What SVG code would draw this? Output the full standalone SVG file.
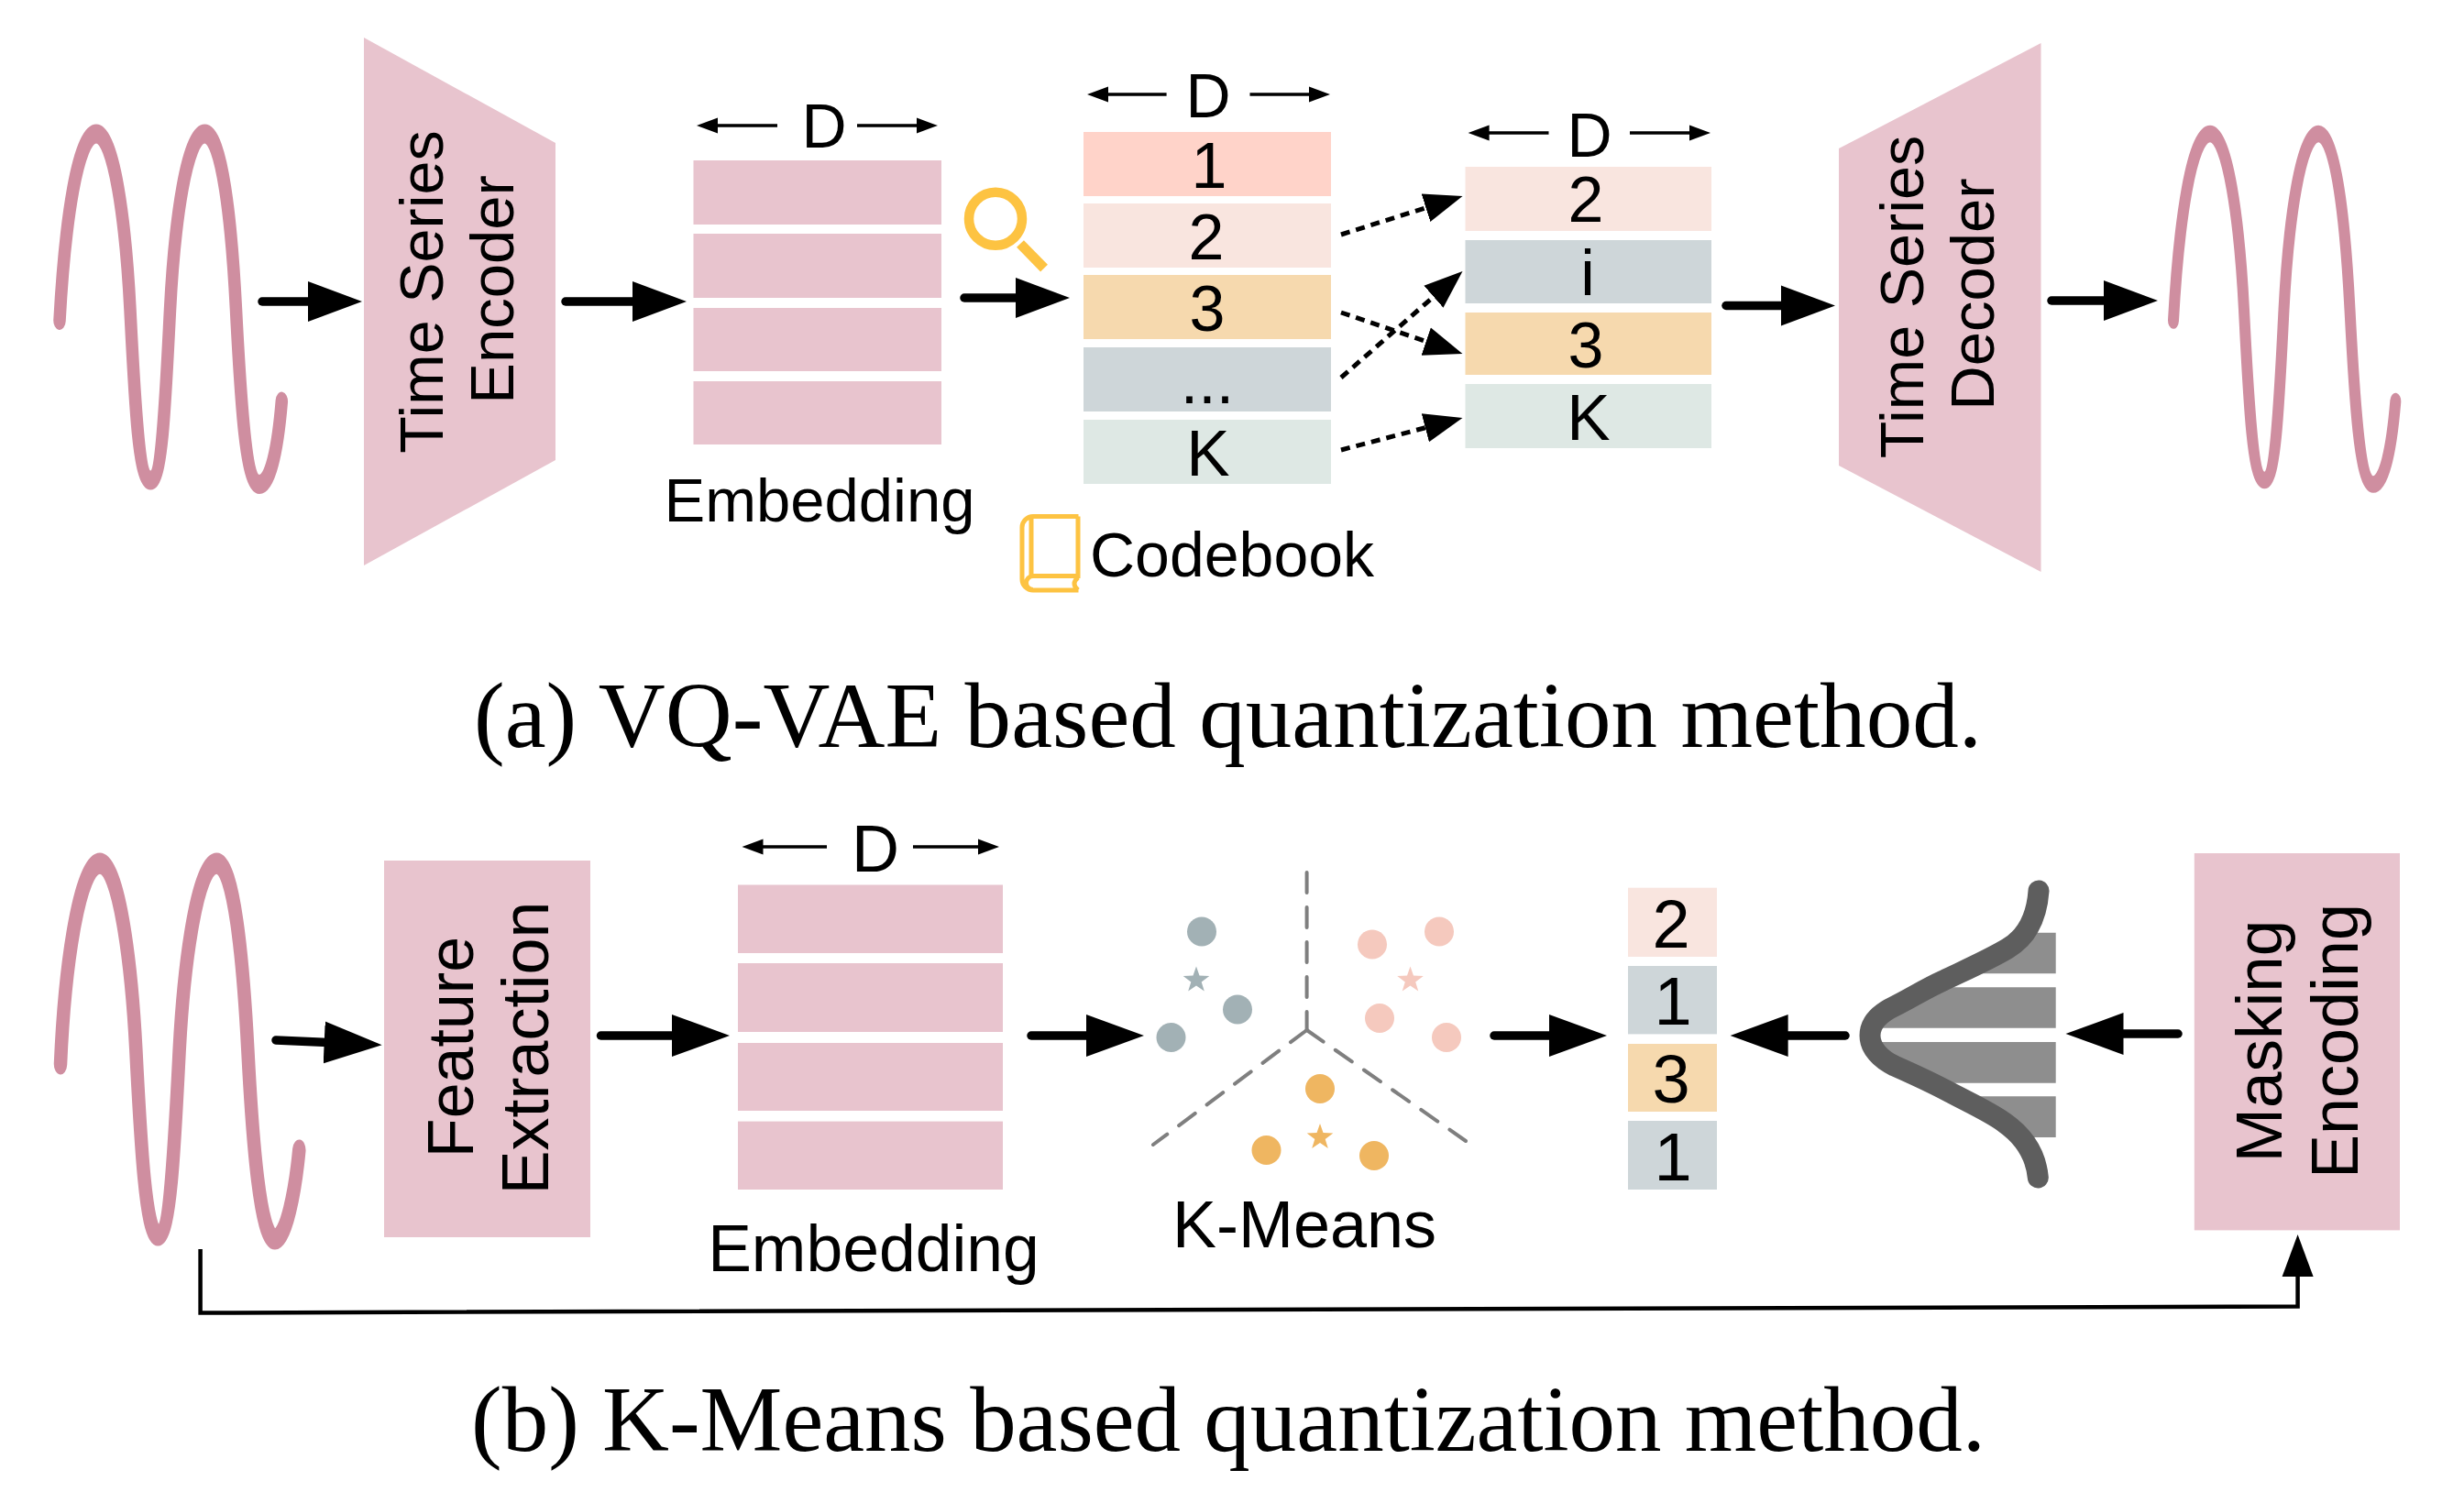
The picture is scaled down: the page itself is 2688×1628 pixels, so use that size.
<svg xmlns="http://www.w3.org/2000/svg" width="2688" height="1628" viewBox="0 0 2688 1628">
<style>
.s{font-family:"Liberation Sans",Arial,sans-serif;fill:#000}
.c{font-family:"Liberation Serif","Times New Roman",serif;font-size:101px;fill:#000}
.m{text-anchor:middle}
.f67{font-size:67px}.f68{font-size:68px}.f70{font-size:70px}.f71{font-size:71px}.f72{font-size:72px}.f74{font-size:74px}
.pk{fill:#E8C4CE}.c1{fill:#FFD3C9}.c2{fill:#F9E5DF}.c3{fill:#F6D9AE}.c4{fill:#CED6D9}.c5{fill:#DEE8E4}
.wave{fill:none;stroke:#CF8EA0;stroke-linecap:round;stroke-linejoin:round}
.big{fill:none;stroke:#000;stroke-width:9.500;stroke-linecap:round}
.a59{marker-end:url(#h59)}.a63{marker-end:url(#h63)}
.thin{fill:none;stroke:#000;stroke-width:3.500;marker-end:url(#h23)}
.dash{fill:none;stroke:#000;stroke-width:5;stroke-dasharray:10 7;marker-end:url(#h42)}
.km{fill:none;stroke:#7F7F7F;stroke-width:4;stroke-linecap:round;stroke-dasharray:22 16}
.bl{fill:#A2B1B5}.pn{fill:#F5C9BE}.or{fill:#EFB661}
.gold{fill:none;stroke:#FDC342}
</style>
<defs>
<marker id="h59" markerUnits="userSpaceOnUse" markerWidth="70" markerHeight="50" refX="10" refY="25" orient="auto"><path d="M0,3 L59,25 L0,47Z"/></marker>
<marker id="h63" markerUnits="userSpaceOnUse" markerWidth="70" markerHeight="50" refX="10" refY="25" orient="auto"><path d="M0,2 L63,25 L0,48Z"/></marker>
<marker id="h23" markerUnits="userSpaceOnUse" markerWidth="26" markerHeight="20" refX="2" refY="10" orient="auto"><path d="M0,1.500 L23,10 L0,18.500Z"/></marker>
<marker id="h42" markerUnits="userSpaceOnUse" markerWidth="44" markerHeight="36" refX="2" refY="18" orient="auto"><path d="M0,2 L42,18 L0,34Z"/></marker>
<marker id="h46" markerUnits="userSpaceOnUse" markerWidth="48" markerHeight="36" refX="2" refY="18" orient="auto"><path d="M0,1 L46,18 L0,35Z"/></marker>
<polygon id="star" points="0,-15 3.500,-4.900 14.300,-4.600 5.700,1.900 8.800,12.100 0,6 -8.800,12.100 -5.700,1.900 -14.300,-4.600 -3.500,-4.900"/>
<path id="wa" d="M65,225.500 C71,154.800 85,94.200 105,94.200 C124,94.200 137,154.800 142,218.100 C147,281.300 151,338.100 164.300,338.100 C177,338.100 180.500,281.300 185.500,218.100 C190.500,154.800 204,94.200 223.300,94.200 C242,94.200 252.500,154.800 257.500,218.100 C262.500,281.300 268,341 283,341 C295,341 303,316.100 307.300,282.600"/>
<clipPath id="bars"><rect x="2000" y="1017.700" width="242.700" height="44.600"/><rect x="2000" y="1077.300" width="242.700" height="44.400"/><rect x="2000" y="1137" width="242.700" height="44.700"/><rect x="2000" y="1196.300" width="242.700" height="44.700"/></clipPath>
</defs>

<g id="wave-input-a"><use href="#wa" class="wave" stroke-width="13.500" transform="scale(1,1.550)"/></g>
<g id="encoder"><polygon class="pk" points="397,41 606,156 606,502 397,617"/>
<text class="s m" style="font-size:66.500px" transform="translate(483,318.500) rotate(-90)">Time Series</text>
<text class="s f67 m" transform="translate(560,316) rotate(-90)">Encoder</text></g>
<g id="embedding-a"><rect class="pk" x="756.500" y="175" width="270.500" height="70"/><rect class="pk" x="756.500" y="255" width="270.500" height="70"/><rect class="pk" x="756.500" y="336" width="270.500" height="69"/><rect class="pk" x="756.500" y="416" width="270.500" height="69"/>
<text class="s f68 m" x="899" y="161">D</text>
<text class="s f67 m" x="894" y="569">Embedding</text></g>
<g id="magnifier"><circle class="gold" stroke-width="10.500" cx="1086" cy="238.700" r="29"/><path class="gold" stroke-width="11" d="M1113,266 L1139,292.700"/></g>
<g id="codebook"><rect class="c1" x="1182" y="144" width="270" height="70"/><rect class="c2" x="1182" y="222" width="270" height="70"/><rect class="c3" x="1182" y="300" width="270" height="70"/><rect class="c4" x="1182" y="379" width="270" height="70"/><rect class="c5" x="1182" y="458" width="270" height="70"/>
<text class="s f68 m" x="1318" y="128">D</text>
<text class="s f70 m" x="1319" y="204.500">1</text><text class="s f70 m" x="1316" y="283">2</text><text class="s f70 m" x="1317" y="361">3</text><text class="s f70 m" x="1317" y="440">...</text><text class="s f71 m" x="1318" y="519">K</text></g>
<g id="codebook-label"><path class="gold" stroke-width="5" d="M1176.500,563.500 H1127 a12,12 0 0 0 -12,12 V632 a12,12 0 0 0 12,12 H1176.500 M1125,564 V628.500 M1176,563.500 V628.500 H1127 a7.500,7.500 0 0 0 0,15 M1176,630 Q1168,637 1176,644"/>
<text class="s f68" x="1189" y="628.500">Codebook</text></g>
<g id="quantized"><rect class="c2" x="1598.500" y="182" width="268.500" height="70"/><rect class="c4" x="1598.500" y="262" width="268.500" height="69"/><rect class="c3" x="1598.500" y="341" width="268.500" height="68"/><rect class="c5" x="1598.500" y="419" width="268.500" height="70"/>
<text class="s f68 m" x="1742" y="171" transform="translate(-8,0)">D</text>
<text class="s f70 m" x="1730" y="242">2</text><text class="s f70 m" x="1732" y="322">i</text><text class="s f70 m" x="1730" y="401">3</text><text class="s f71 m" x="1733" y="479.500">K</text></g>
<g id="decoder"><polygon class="pk" points="2006,162 2226.500,47 2226.500,624 2006,508"/>
<text class="s m" style="font-size:66.500px" transform="translate(2098,324) rotate(-90)">Time Series</text>
<text class="s f67 m" transform="translate(2175,321) rotate(-90)">Decoder</text></g>
<g id="wave-output-a"><use href="#wa" class="wave" stroke-width="12" transform="translate(2306,0) scale(1,1.550)"/></g>
<text class="c" x="517" y="815" textLength="1645">(a) VQ-VAE based quantization method.</text>

<g id="wave-input-b"><path class="wave" stroke-width="14.500" transform="scale(1,1.600)" d="M66,725.600 C71,653.100 88,588.800 109,588.800 C129,588.800 143,653.100 148.300,715.600 C153.500,779.400 159,842.500 172.300,842.500 C186,842.500 190.500,779.400 195.700,715.600 C201,653.100 216,588.800 236.300,588.800 C255,588.800 265,653.100 270.300,715.600 C275.500,779.400 284,845 300,845 C312,845 322,812.500 326.300,784.400"/></g>
<g id="feature-extraction"><rect class="pk" x="419" y="939" width="225" height="411"/>
<text class="s f70 m" transform="translate(516,1142.500) rotate(-90)">Feature</text>
<text class="s f72 m" transform="translate(598,1143.500) rotate(-90)">Extraction</text></g>
<g id="embedding-b"><rect class="pk" x="805" y="965.500" width="289" height="74.500"/><rect class="pk" x="805" y="1051" width="289" height="75"/><rect class="pk" x="805" y="1138" width="289" height="74"/><rect class="pk" x="805" y="1223.600" width="289" height="74.400"/>
<text class="s f72 m" x="955" y="951">D</text>
<text class="s m" style="font-size:71.500px" x="953" y="1386.500">Embedding</text></g>
<g id="kmeans">
<path class="km" d="M1425.600,952 V1124"/><path class="km" d="M1425.600,1124 L1258,1249"/><path class="km" d="M1425.600,1124 L1599,1245"/>
<circle class="bl" cx="1311" cy="1016.500" r="16"/><circle class="bl" cx="1350" cy="1101.500" r="16"/><circle class="bl" cx="1277.500" cy="1132" r="16"/>
<circle class="pn" cx="1497" cy="1030.500" r="16"/><circle class="pn" cx="1570" cy="1016.500" r="16"/><circle class="pn" cx="1505" cy="1111" r="16"/><circle class="pn" cx="1578" cy="1132" r="16"/>
<circle class="or" cx="1440" cy="1188" r="16"/><circle class="or" cx="1381.500" cy="1255" r="16"/><circle class="or" cx="1499" cy="1261" r="16"/>
<use href="#star" class="bl" x="1305" y="1069.500"/><use href="#star" class="pn" x="1538.500" y="1069.500"/><use href="#star" class="or" x="1440" y="1241"/>
<text class="s f72 m" x="1430" y="1361" transform="translate(-7,0)">K-Means</text></g>
<g id="cluster-ids"><rect class="c2" x="1776" y="968.700" width="97" height="75.300"/><rect class="c4" x="1776" y="1054" width="97" height="74.400"/><rect class="c3" x="1776" y="1139" width="97" height="74"/><rect class="c4" x="1776" y="1223" width="97" height="75"/>
<text class="s f74 m" x="1823" y="1033.700">2</text><text class="s f74 m" x="1825" y="1118">1</text><text class="s f74 m" x="1823" y="1203">3</text><text class="s f74 m" x="1825" y="1288">1</text></g>
<g id="gaussian"><path fill="#8E8E8E" clip-path="url(#bars)" d="M2224,972 C2222,1000 2212,1022 2190,1035 C2170,1047 2145,1058 2120,1070 C2100,1079 2085,1089 2066.700,1098 C2050,1106 2040,1117 2040,1130 C2040,1144 2052,1156 2066.700,1163 C2087,1172 2107,1181 2126.700,1191.700 C2150,1204 2172,1214 2186.700,1225 C2208,1240 2221,1260 2223.300,1285 L2243,1285 L2243,972Z"/>
<path fill="none" stroke="#5E5E5E" stroke-width="23" stroke-linecap="round" d="M2224,972 C2222,1000 2212,1022 2190,1035 C2170,1047 2145,1058 2120,1070 C2100,1079 2085,1089 2066.700,1098 C2050,1106 2040,1117 2040,1130 C2040,1144 2052,1156 2066.700,1163 C2087,1172 2107,1181 2126.700,1191.700 C2150,1204 2172,1214 2186.700,1225 C2208,1240 2221,1260 2223.300,1285"/></g>
<g id="masking-encoding"><rect class="pk" x="2393.800" y="931" width="224.200" height="411.400"/>
<text class="s f71 m" transform="translate(2489,1136) rotate(-90)">Masking</text>
<text class="s f72 m" transform="translate(2572,1136) rotate(-90)">Encoding</text></g>
<text class="c" x="514" y="1582.500" textLength="1652">(b) K-Means based quantization method.</text>

<g id="connectors">
<path class="big a59" d="M286,329 H346"/><path class="big a59" d="M617,329 H700"/><path class="big a59" d="M1052,325 H1118"/><path class="big a59" d="M1883,333.500 H1953"/><path class="big a59" d="M2238,328 H2305"/>
<path class="big a63" d="M301,1135 L363.700,1137.800"/><path class="big a63" d="M655.500,1130 H743"/><path class="big a63" d="M1125,1130 H1195"/><path class="big a63" d="M1630,1130 H1700"/><path class="big a63" d="M2013,1130 H1940.600"/><path class="big a63" d="M2376,1128 H2306.500"/>
<path class="thin" d="M848,137 H781"/><path class="thin" d="M935,137 H1002"/>
<path class="thin" d="M1272.600,103 H1207"/><path class="thin" d="M1363.500,103 H1430"/>
<path class="thin" d="M1689.500,145 H1622.600"/><path class="thin" d="M1778,145 H1845"/>
<path class="thin" d="M902,924 H830.500"/><path class="thin" d="M996,924 H1069"/>
<path class="dash" d="M1463,256 L1557.400,226.100"/><path class="dash" d="M1463,341 L1557.600,373.200"/><path class="dash" d="M1463,412 L1565.400,322.400"/><path class="dash" d="M1463,491 L1556.800,466.200"/>
<path fill="none" stroke="#000" stroke-width="4.500" marker-end="url(#h46)" d="M218.600,1363 V1432.500 L2506.600,1425.500 V1391"/>
</g>
</svg>
